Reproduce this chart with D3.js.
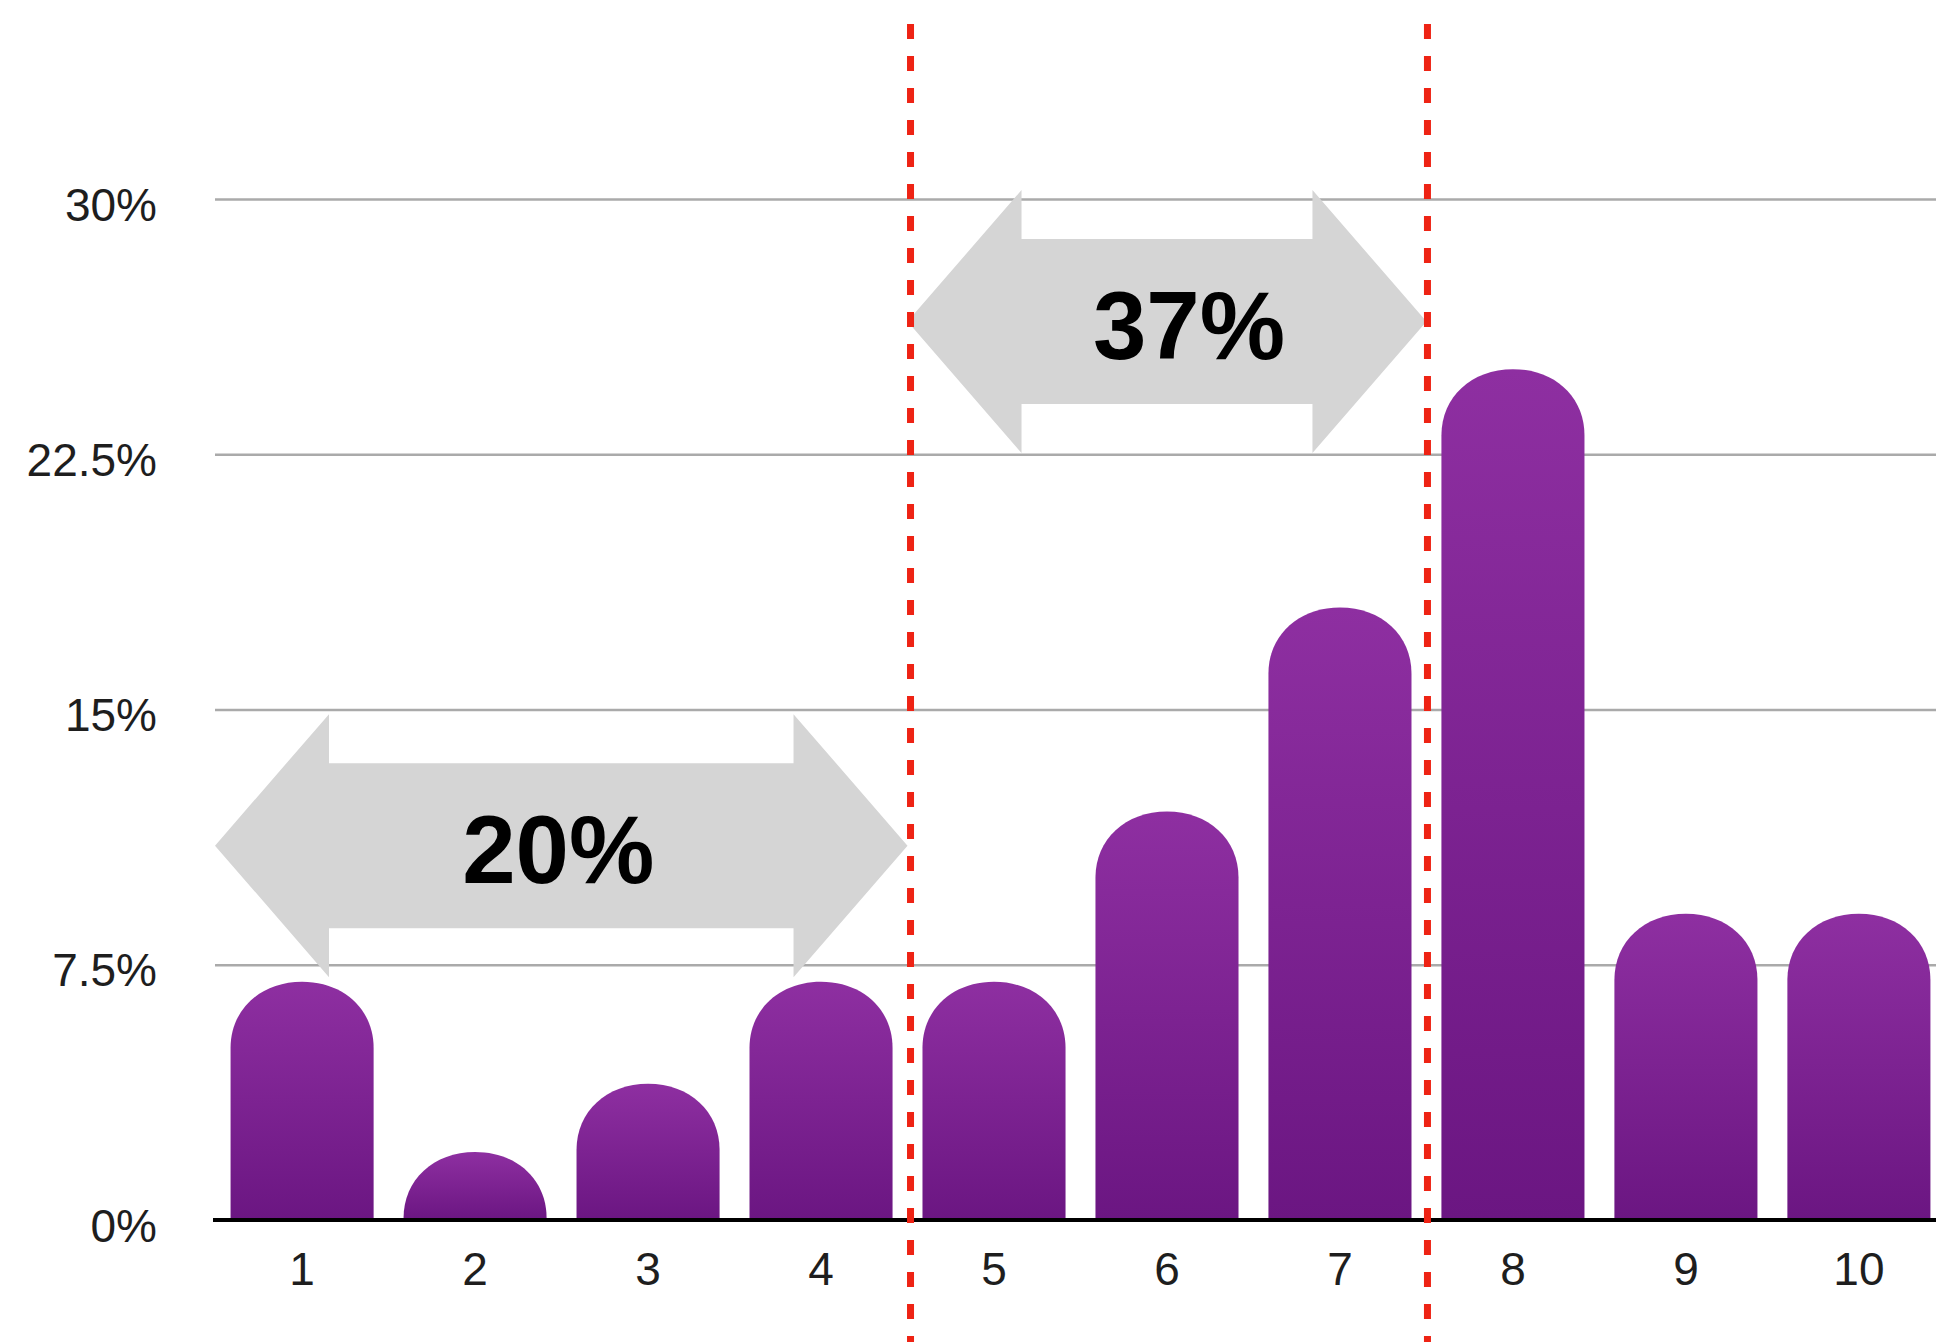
<!DOCTYPE html>
<html>
<head>
<meta charset="utf-8">
<script src="https://cdn.jsdelivr.net/npm/d3@7"></script>
<style>
  html, body { margin: 0; padding: 0; background: #fff; }
  svg { display: block; }
</style>
</head>
<body>
<svg id="chart" width="1936" height="1342"></svg>
<script>
// data
const categories = ["1", "2", "3", "4", "5", "6", "7", "8", "9", "10"];
const values = [7, 2, 4, 7, 7, 12, 18, 25, 9, 9];       // percent
const yTicks = [0, 7.5, 15, 22.5, 30];
const groupLabels = ["20%", "37%"];
const groupStart = [0, 4];     // boundary index (after n bars)
const groupEnd = [4, 7];
const groupLevel = [11, 26.4]; // arrow centre, in percent
const dividerAfter = [4, 7];   // red dashed lines after bar 4 and bar 7

var svg = d3.select("#chart");
var width = +svg.attr("width");
var height = +svg.attr("height");

const x = d3.scaleBand()
    .domain(categories)
    .range([215, 1946])
    .paddingInner(0.173)
    .paddingOuter(0.09);

const y = d3.scaleLinear()
    .domain([0, 30])
    .range([1220, 199]);

// boundary between bar n and n+1 (0 = left edge of plot)
function boundary(n) {
    if (n == 0) return x.range()[0];
    const gap = x.step() - x.bandwidth();
    return x(categories[n - 1]) + x.bandwidth() + gap / 2;
}

// gradient for the bars
const defs = svg.append("defs");
const grad = defs.append("linearGradient")
    .attr("id", "barGrad")
    .attr("x1", 0).attr("y1", 0)
    .attr("x2", 0).attr("y2", 1);
grad.append("stop").attr("offset", "0%").attr("stop-color", "#8e2fa1");
grad.append("stop").attr("offset", "100%").attr("stop-color", "#6b1682");

// y axis + grid lines
const yAxis = svg.append("g")
    .attr("transform", "translate(215,0)")
    .call(d3.axisLeft(y)
        .tickValues(yTicks)
        .tickFormat(d => d + "%")
        .tickSize(-(width - 215))
        .tickPadding(58));
yAxis.select(".domain").remove();
yAxis.selectAll(".tick line")
    .style("stroke", "#aaaaaa")
    .style("stroke-width", 2.5);
yAxis.selectAll(".tick text")
    .attr("dy", 21)
    .style("font-family", "'Liberation Sans', Arial, Helvetica, sans-serif")
    .style("font-size", "46px")
    .style("fill", "#1e1e1e");

// bars with rounded dome tops
const capR = 66;
const kCap = 0.58;
function barPath(d, i) {
    const x0 = x(categories[i]);
    const w = x.bandwidth();
    const xm = x0 + w / 2;
    const yb = y(0);
    const yt = y(d);
    const ry = Math.min(capR, yb - yt);
    const rx = w / 2;
    const ys = yt + ry;
    return "M" + x0 + "," + yb +
        "V" + ys +
        "C" + x0 + "," + (ys - kCap * ry) + " " + (xm - kCap * rx) + "," + yt + " " + xm + "," + yt +
        "C" + (xm + kCap * rx) + "," + yt + " " + (x0 + w) + "," + (ys - kCap * ry) + " " + (x0 + w) + "," + ys +
        "V" + yb + "Z";
}
svg.selectAll(".bar")
    .data(values)
    .enter()
    .append("path")
    .attr("class", "bar")
    .attr("d", barPath)
    .style("fill", "url(#barGrad)");

// x axis labels
const xAxis = svg.append("g")
    .attr("transform", "translate(0," + y(0) + ")")
    .call(d3.axisBottom(x).tickSize(0).tickPadding(65));
xAxis.select(".domain").remove();
xAxis.selectAll(".tick text")
    .attr("dy", 0)
    .style("font-family", "'Liberation Sans', Arial, Helvetica, sans-serif")
    .style("font-size", "46px")
    .style("fill", "#1e1e1e");

// black baseline
svg.append("line")
    .attr("x1", 213)
    .attr("x2", width)
    .attr("y1", y(0))
    .attr("y2", y(0))
    .style("stroke", "#000")
    .style("stroke-width", 4);

// double arrows
const headL = 114;
const headH = 131.5;
const shaftH = 82.5;
function arrowPath(xl, xr, yc) {
    const pts = [
        [xl, yc],
        [xl + headL, yc - headH],
        [xl + headL, yc - shaftH],
        [xr - headL, yc - shaftH],
        [xr - headL, yc - headH],
        [xr, yc],
        [xr - headL, yc + headH],
        [xr - headL, yc + shaftH],
        [xl + headL, yc + shaftH],
        [xl + headL, yc + headH]
    ];
    return d3.line()(pts) + "Z";
}
const labelDx = [-3, 22];
groupLabels.forEach(function(lab, i) {
    const xl = boundary(groupStart[i]);
    const xr = boundary(groupEnd[i]);
    const yc = y(groupLevel[i]);
    svg.append("path")
        .attr("d", arrowPath(xl, xr, yc))
        .style("fill", "#d5d5d5");
    svg.append("text")
        .attr("x", (xl + xr) / 2 + labelDx[i])
        .attr("y", yc + 37)
        .attr("text-anchor", "middle")
        .style("font-family", "'Liberation Sans', Arial, Helvetica, sans-serif")
        .style("font-weight", "bold")
        .style("font-size", "96px")
        .style("fill", "#000")
        .text(lab);
});

// red dashed dividers
svg.selectAll(".divider")
    .data(dividerAfter)
    .enter()
    .append("line")
    .attr("class", "divider")
    .attr("x1", d => boundary(d) + (d == 4 ? 3 : 1))
    .attr("x2", d => boundary(d) + (d == 4 ? 3 : 1))
    .attr("y1", 24)
    .attr("y2", height)
    .style("stroke", "#ee2314")
    .style("stroke-width", 7)
    .style("stroke-dasharray", "15,17");
</script>
</body>
</html>
